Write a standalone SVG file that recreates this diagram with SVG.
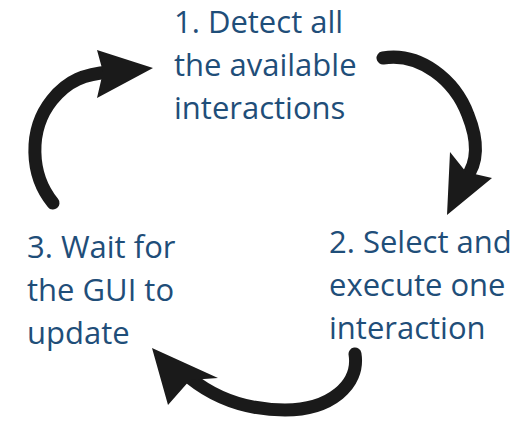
<svg xmlns="http://www.w3.org/2000/svg" width="523" height="422" viewBox="0 0 523 422">
<style>
.t{font-family:"Open Sans","Noto Sans",sans-serif;font-size:31px;fill:#1f4e79}
.shaft{fill:none;stroke:#1a1a1a;stroke-width:13;stroke-linecap:round}
.head{fill:#1a1a1a}
</style>
<rect width="523" height="422" fill="#ffffff"/>
<g id="connectors">
<g id="arrow-3-to-1">
<path class="shaft" d="M53,203 C30,175 28,130 52,100 C68,80 85,74 110,72"/>
<polygon class="head" points="153,68 97,50 103,72 97,98"/>
</g>
<g id="arrow-1-to-2">
<path class="shaft" d="M383,58 C420,52 455,80 468,115 C480,145 476,165 466,178"/>
<polygon class="head" points="447,215 450,152 466,172 492,178"/>
</g>
<g id="arrow-2-to-3">
<path class="shaft" d="M355,354 C360,385 330,410 285,410 C245,410 215,398 190,378"/>
<polygon class="head" points="152,348 218,378 190,380 168,405"/>
</g>
</g>
<g id="node-1">
<text class="t" x="174" y="33">1. Detect all</text>
<text class="t" x="174" y="76">the available</text>
<text class="t" x="174" y="119">interactions</text>
</g>
<g id="node-2">
<text class="t" x="329" y="253">2. Select and</text>
<text class="t" x="329" y="296">execute one</text>
<text class="t" x="329" y="339">interaction</text>
</g>
<g id="node-3">
<text class="t" x="27" y="258">3. Wait for</text>
<text class="t" x="27" y="301">the GUI to</text>
<text class="t" x="27" y="344">update</text>
</g>
</svg>
